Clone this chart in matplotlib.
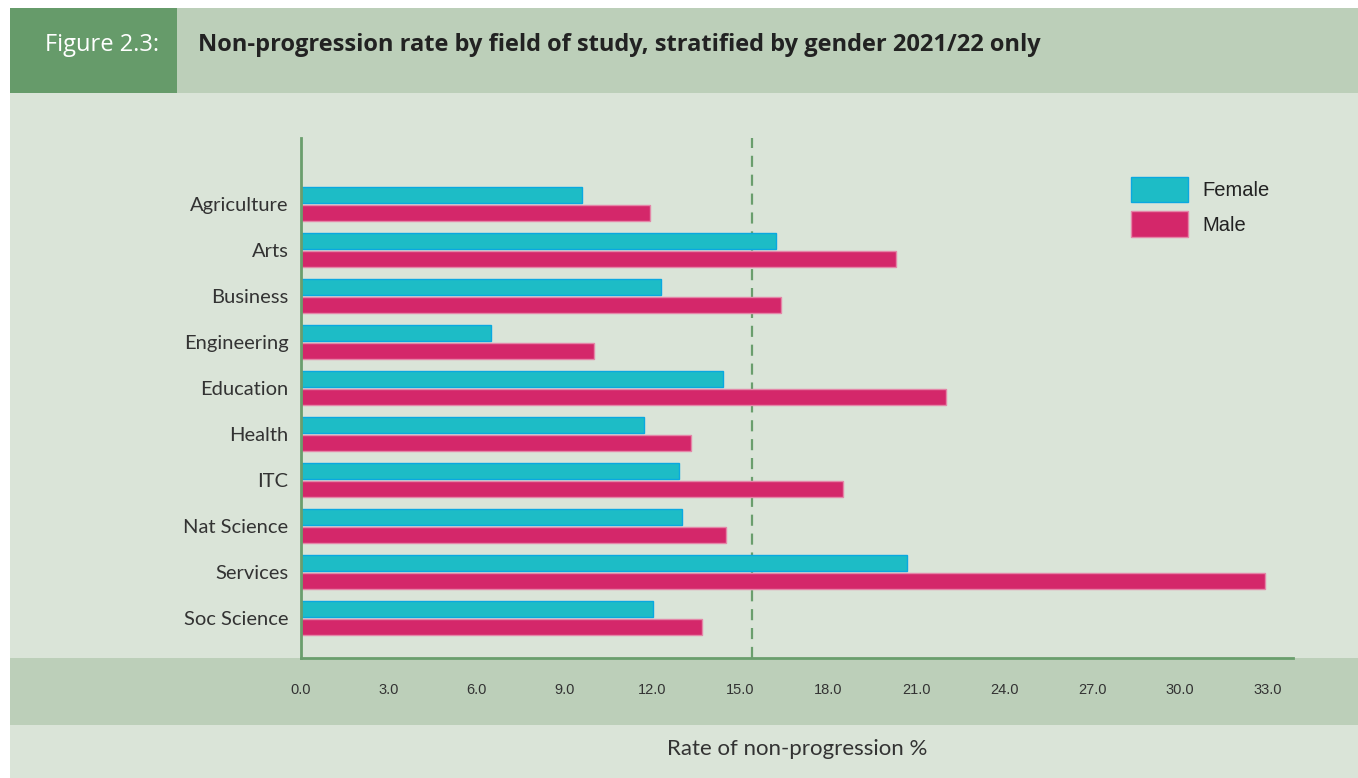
import numpy as np
import matplotlib
matplotlib.use("Agg")
import matplotlib.pyplot as plt
from matplotlib.patches import Rectangle, Patch

# --- data ---
fields = ["Agriculture", "Arts", "Business", "Engineering", "Education",
          "Health", "ITC", "Nat Science", "Services", "Soc Science"]
female = [9.6, 16.2, 12.3, 6.5, 14.4, 11.7, 12.9, 13.0, 20.7, 12.0]
male = [11.9, 20.3, 16.4, 10.0, 22.0, 13.3, 18.5, 14.5, 32.9, 13.7]
overall_rate = 15.4
xticks = [0, 3, 6, 9, 12, 15, 18, 21, 24, 27, 30, 33]

# --- colours ---
PANEL = "#dae4d8"
BAND = "#bccfb9"
DARK = "#669b6a"
AXIS_GREEN = "#6a9e6d"
FEMALE_FILL, FEMALE_EDGE = "#1dbcc6", "#0aa8e0"
MALE_FILL, MALE_EDGE = "#d4276a", "#e486a8"
TEXT = "#333333"

W, H = 1358, 778
fig = plt.figure(figsize=(W / 100, H / 100), dpi=100)
fig.patch.set_facecolor("white")


def px_rect(x0, y0, x1, y1, color):
    # rectangle in pixel coordinates measured from the top-left corner
    fig.patches.append(Rectangle((x0 / W, 1 - y1 / H), (x1 - x0) / W, (y1 - y0) / H,
                                 transform=fig.transFigure, facecolor=color,
                                 edgecolor="none", zorder=-5))


px_rect(10, 8, W, H, PANEL)
px_rect(10, 8, W, 93, BAND)
px_rect(10, 8, 177, 93, DARK)
px_rect(10, 658, W, 725, BAND)

fig.text(102 / W, 1 - 45 / H, "Figure 2.3:", color="white", fontsize=17,
         family="Open Sans", ha="center", va="center")
fig.text(198 / W, 1 - 45 / H,
         "Non-progression rate by field of study, stratified by gender 2021/22 only",
         color="#222222", fontsize=17, family="Open Sans", weight="bold",
         ha="left", va="center")

ax = fig.add_axes([301 / W, 1 - 658 / H, 992 / W, 520 / H])
ax.set_facecolor("none")

y = np.arange(len(fields))
bar_h = 0.35
ax.barh(y - 0.196, female, height=bar_h, color=FEMALE_FILL, edgecolor=FEMALE_EDGE,
        linewidth=1, label="Female", zorder=3)
ax.barh(y + 0.196, male, height=bar_h, color=MALE_FILL, edgecolor=MALE_EDGE,
        linewidth=1, label="Male", zorder=3)

# dashed reference line for the overall rate
ax.axvline(overall_rate, color=AXIS_GREEN, linewidth=1.6,
           linestyle=(0, (5.0, 3.5)), zorder=2)

ax.set_xlim(0, 33.86)
ax.set_ylim(9.87, -1.43)

ax.set_yticks(y)
ax.set_yticklabels(fields, family="Lato", fontsize=14.5, color=TEXT)
ax.set_xticks(xticks)
ax.set_xticklabels([f"{t:.1f}" for t in xticks], family="Liberation Sans",
                   fontsize=10.5, color=TEXT)
ax.tick_params(axis="y", length=0, pad=9)
ax.tick_params(axis="x", length=0, pad=18)

for side in ["top", "right"]:
    ax.spines[side].set_visible(False)
for side in ["left", "bottom"]:
    ax.spines[side].set_color(AXIS_GREEN)
    ax.spines[side].set_linewidth(2)
    ax.spines[side].set_zorder(4)

ax.set_xlabel("Rate of non-progression %", family="Lato", fontsize=16,
              color=TEXT, labelpad=30)

handles = [Patch(facecolor=FEMALE_FILL, edgecolor=FEMALE_EDGE, label="Female"),
           Patch(facecolor=MALE_FILL, edgecolor=MALE_EDGE, label="Male")]
leg = fig.legend(handles=handles, loc="upper left",
                 bbox_to_anchor=(1131 / W, 1 - 177 / H), frameon=False,
                 prop={"family": "Liberation Sans", "size": 14.5},
                 handlelength=2.85, handleheight=1.55, handletextpad=0.7,
                 labelspacing=0.45, borderpad=0, borderaxespad=0)
for t in leg.get_texts():
    t.set_color("#222222")

fig.savefig("out.png", dpi=100, facecolor=fig.get_facecolor())
